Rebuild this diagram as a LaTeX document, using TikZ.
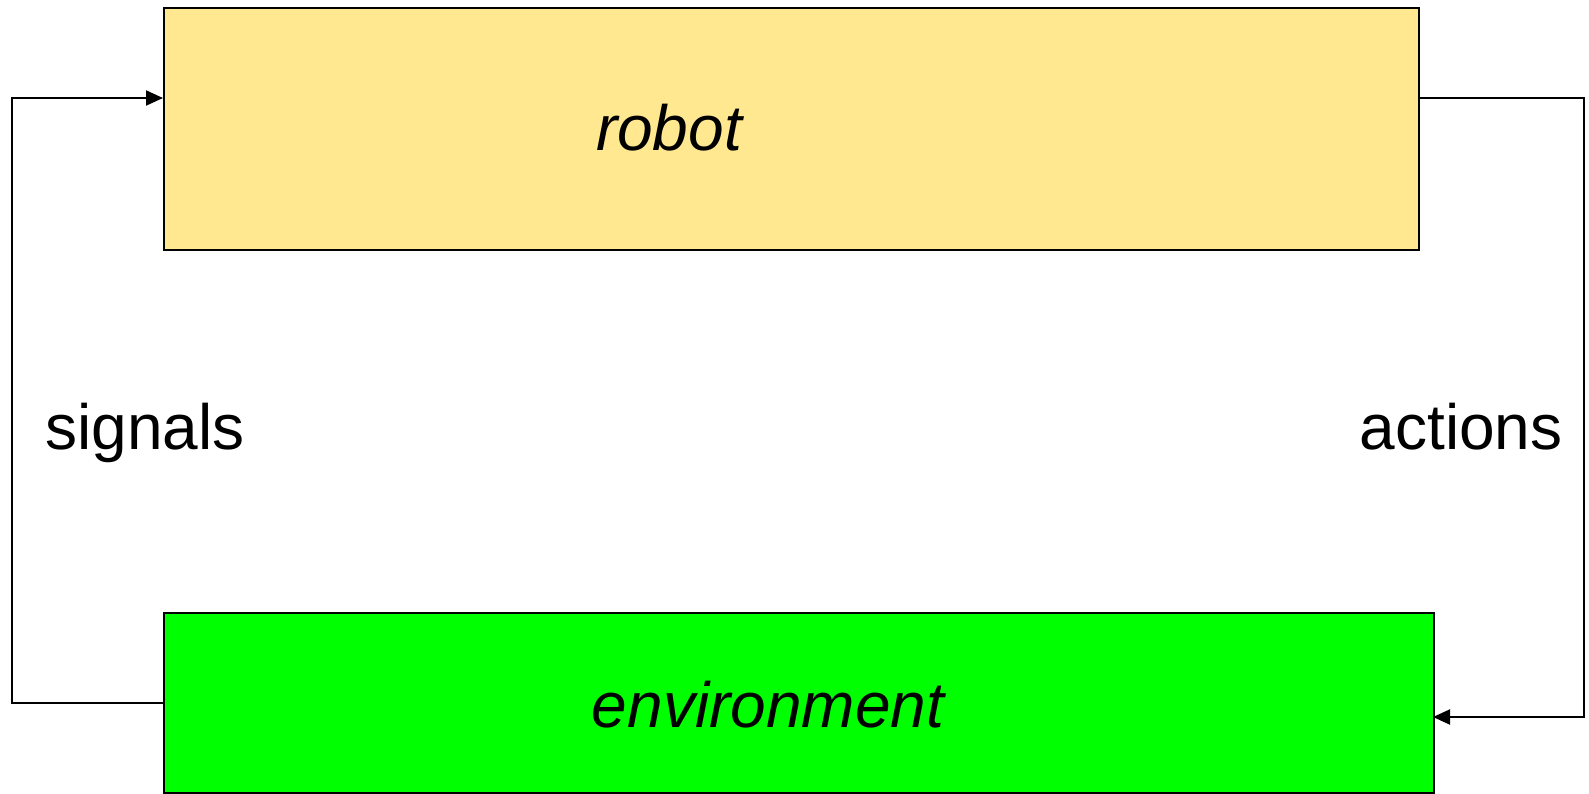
\documentclass[tikz,border=0pt]{standalone}
\usepackage{fontspec}
\setmainfont{Liberation Sans}
\usetikzlibrary{arrows.meta}

\definecolor{robotyellow}{HTML}{FFE890}
\definecolor{envgreen}{HTML}{00FF00}

\begin{document}
\begin{tikzpicture}[x=1pt,y=-1pt,line width=2pt,
  font=\fontsize{64}{72}\selectfont,
  box/.style={draw,rectangle,inner sep=0pt,anchor=north west},
  flow/.style={-{Triangle[length=17pt,width=15pt]}}]

\useasboundingbox (0,0) rectangle (1589,793);

% blocchi
\node[box,fill=robotyellow,minimum width=1255pt,minimum height=242pt] (robot) at (163,7) {};
\node[box,fill=envgreen,minimum width=1270pt,minimum height=180pt] (env) at (163,612) {};

\node[anchor=base,font=\fontsize{64}{72}\selectfont\itshape] (robottext) at (669,150) {robot};
\node[anchor=base,font=\fontsize{64}{72}\selectfont\itshape] (envtext) at (768,727) {environment};

% segnali e azioni
\coordinate (sigT) at (12,98);
\coordinate (rin) at (163,98);
\coordinate (rout) at (1418,98);
\coordinate (actT) at (1584,98);
\coordinate (actB) at (1584,717);
\coordinate (ein) at (1433,717);

\draw[flow] (env.west) -- (env.west -| sigT) -- (sigT) -- (rin);
\draw[flow] (rout) -- (actT) -- (actB) -- (ein);

\node[anchor=base] (signals) at (145,449) {signals};
\node[anchor=base] (actions) at (1461,449) {actions};

\end{tikzpicture}
\end{document}
